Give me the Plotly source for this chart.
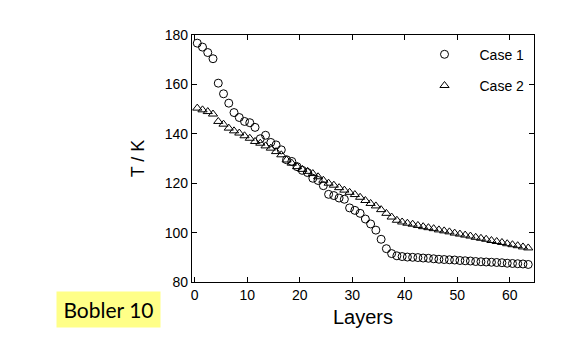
import plotly.graph_objects as go

layers = [0.5, 1.5, 2.5, 3.5, 4.5, 5.5, 6.5, 7.5, 8.5, 9.5,
          10.5, 11.5, 12.5, 13.5, 14.5, 15.5, 16.5, 17.5, 18.5, 19.5,
          20.5, 21.5, 22.5, 23.5, 24.5, 25.5, 26.5, 27.5, 28.5, 29.5,
          30.5, 31.5, 32.5, 33.5, 34.5, 35.5, 36.5, 37.5, 38.5, 39.5,
          40.5, 41.5, 42.5, 43.5, 44.5, 45.5, 46.5, 47.5, 48.5, 49.5,
          50.5, 51.5, 52.5, 53.5, 54.5, 55.5, 56.5, 57.5, 58.5, 59.5,
          60.5, 61.5, 62.5, 63.5]

case1 = [176.7, 175.1, 172.9, 170.4, 160.5, 156.2, 152.4, 148.6, 146.6, 145.0,
         144.5, 142.6, 138.0, 139.4, 136.5, 135.5, 133.5, 129.5, 128.8, 126.7,
         125.2, 124.3, 122.0, 121.1, 119.0, 115.5, 115.0, 114.0, 113.5, 110.0,
         109.0, 107.8, 105.5, 103.5, 101.0, 97.3, 93.5, 91.5, 90.6, 90.3,
         90.1, 90.0, 89.9, 89.7, 89.6, 89.4, 89.2, 89.1, 89.0, 88.9,
         88.7, 88.6, 88.5, 88.3, 88.2, 88.1, 88.0, 87.9, 87.8, 87.6,
         87.5, 87.4, 87.3, 87.1]

case2 = [150.4, 149.7, 149.0, 148.0, 145.0, 143.9, 142.3, 141.2, 140.3, 139.2,
         138.2, 136.9, 136.2, 135.1, 134.2, 132.8, 131.5, 129.4, 128.1, 126.7,
         125.6, 124.8, 123.9, 122.6, 121.2, 120.0, 119.2, 118.2, 117.2, 116.3,
         115.4, 114.3, 113.0, 111.8, 110.8, 109.3, 107.8, 106.3, 105.0, 104.3,
         103.8, 103.4, 102.9, 102.4, 102.0, 101.6, 101.1, 100.7, 100.3, 99.8,
         99.4, 99.0, 98.6, 98.1, 97.7, 97.3, 96.8, 96.4, 96.0, 95.5,
         95.1, 94.7, 94.2, 93.8]

x_ticks = [0, 10, 20, 30, 40, 50, 60]
y_ticks = [80, 100, 120, 140, 160, 180]

FONT = "Liberation Sans, Arial, sans-serif"

fig = go.Figure()
fig.add_trace(go.Scatter(
    x=layers, y=case1, mode="markers", name="Case 1", legendgroup="c1",
    marker=dict(symbol="circle-open", size=8, color="black", line=dict(width=1, color="black")),
))
fig.add_trace(go.Scatter(
    x=layers, y=case2, mode="markers", name="Case 2", legendgroup="c2",
    marker=dict(symbol="triangle-up-open", size=8, color="black", line=dict(width=1, color="black")),
))

axis_common = dict(
    showline=True, linecolor="black", linewidth=1.2, mirror="ticks",
    ticks="inside", ticklen=5, tickwidth=1, tickcolor="black",
    showgrid=False, zeroline=False,
    tickfont=dict(family=FONT, size=14, color="black"),
)

fig.update_xaxes(range=[-0.5, 64.6], tickvals=x_ticks,
                 title=dict(text="Layers", font=dict(family=FONT, size=20, color="black"), standoff=8),
                 **axis_common)
fig.update_yaxes(range=[80, 180], tickvals=y_ticks,
                 title=dict(text="T / K", font=dict(family=FONT, size=18, color="black"), standoff=15),
                 **axis_common)

fig.update_layout(
    width=581, height=363,
    margin=dict(l=184, r=55, t=27, b=89),
    paper_bgcolor="white", plot_bgcolor="white",
    showlegend=True,
    legend=dict(x=0.636, y=0.985, xanchor="left", yanchor="top",
                bgcolor="rgba(0,0,0,0)", itemwidth=60, tracegroupgap=10,
                traceorder="grouped",
                font=dict(family=FONT, size=14, color="black")),
    annotations=[dict(
        text="Bobler 10", xref="paper", yref="paper", x=-0.244, y=-0.111,
        xanchor="center", yanchor="middle", showarrow=False,
        font=dict(family="Lato, sans-serif", size=21, color="black"),
        bgcolor="#FFFF88", borderpad=4, width=95, height=27,
    )],
)

fig.write_html("out.html")
